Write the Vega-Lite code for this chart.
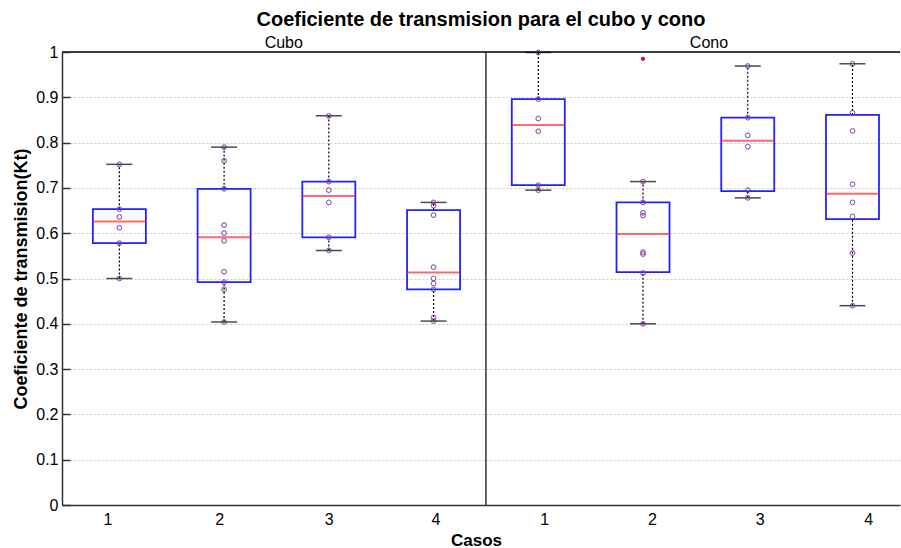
{
  "$schema": "https://vega.github.io/schema/vega-lite/v6.json",
  "width": 838,
  "height": 453,
  "autosize": "none",
  "padding": {"left": 62, "top": 52, "right": 1, "bottom": 43},
  "background": "white",
  "config": {
    "font": "Liberation Sans",
    "view": {"stroke": null}
  },
  "title": {
    "text": "Coeficiente de transmision para el cubo y cono",
    "fontSize": 20,
    "fontWeight": "bold",
    "color": "black",
    "anchor": "middle",
    "offset": 5
  },
  "datasets": {
    "cajas": [
      {"pos": 1, "grupo": "Cubo", "caso": 1, "lo": 0.500, "q1": 0.578, "med": 0.626, "q3": 0.653, "hi": 0.752},
      {"pos": 2, "grupo": "Cubo", "caso": 2, "lo": 0.404, "q1": 0.492, "med": 0.591, "q3": 0.698, "hi": 0.790},
      {"pos": 3, "grupo": "Cubo", "caso": 3, "lo": 0.562, "q1": 0.591, "med": 0.682, "q3": 0.714, "hi": 0.859},
      {"pos": 4, "grupo": "Cubo", "caso": 4, "lo": 0.406, "q1": 0.476, "med": 0.513, "q3": 0.651, "hi": 0.668},
      {"pos": 5, "grupo": "Cono", "caso": 1, "lo": 0.695, "q1": 0.706, "med": 0.839, "q3": 0.896, "hi": 0.999},
      {"pos": 6, "grupo": "Cono", "caso": 2, "lo": 0.400, "q1": 0.514, "med": 0.598, "q3": 0.668, "hi": 0.714},
      {"pos": 7, "grupo": "Cono", "caso": 3, "lo": 0.678, "q1": 0.693, "med": 0.804, "q3": 0.855, "hi": 0.969},
      {"pos": 8, "grupo": "Cono", "caso": 4, "lo": 0.440, "q1": 0.631, "med": 0.687, "q3": 0.861, "hi": 0.974}
    ],
    "puntos": [
      {"pos": 1, "v": 0.752}, {"pos": 1, "v": 0.653}, {"pos": 1, "v": 0.636}, {"pos": 1, "v": 0.612}, {"pos": 1, "v": 0.578}, {"pos": 1, "v": 0.500},
      {"pos": 2, "v": 0.790}, {"pos": 2, "v": 0.760}, {"pos": 2, "v": 0.698}, {"pos": 2, "v": 0.618}, {"pos": 2, "v": 0.600}, {"pos": 2, "v": 0.583}, {"pos": 2, "v": 0.515}, {"pos": 2, "v": 0.492}, {"pos": 2, "v": 0.476}, {"pos": 2, "v": 0.404},
      {"pos": 3, "v": 0.859}, {"pos": 3, "v": 0.714}, {"pos": 3, "v": 0.695}, {"pos": 3, "v": 0.668}, {"pos": 3, "v": 0.591}, {"pos": 3, "v": 0.562},
      {"pos": 4, "v": 0.668}, {"pos": 4, "v": 0.661}, {"pos": 4, "v": 0.640}, {"pos": 4, "v": 0.525}, {"pos": 4, "v": 0.500}, {"pos": 4, "v": 0.489}, {"pos": 4, "v": 0.476}, {"pos": 4, "v": 0.414}, {"pos": 4, "v": 0.406},
      {"pos": 5, "v": 0.999}, {"pos": 5, "v": 0.896}, {"pos": 5, "v": 0.853}, {"pos": 5, "v": 0.825}, {"pos": 5, "v": 0.706}, {"pos": 5, "v": 0.695},
      {"pos": 6, "v": 0.714}, {"pos": 6, "v": 0.668}, {"pos": 6, "v": 0.645}, {"pos": 6, "v": 0.639}, {"pos": 6, "v": 0.558}, {"pos": 6, "v": 0.554}, {"pos": 6, "v": 0.512}, {"pos": 6, "v": 0.400},
      {"pos": 7, "v": 0.969}, {"pos": 7, "v": 0.855}, {"pos": 7, "v": 0.816}, {"pos": 7, "v": 0.791}, {"pos": 7, "v": 0.695}, {"pos": 7, "v": 0.678},
      {"pos": 8, "v": 0.974}, {"pos": 8, "v": 0.866}, {"pos": 8, "v": 0.826}, {"pos": 8, "v": 0.708}, {"pos": 8, "v": 0.668}, {"pos": 8, "v": 0.637}, {"pos": 8, "v": 0.556}, {"pos": 8, "v": 0.440}
    ],
    "atipicos": [
      {"pos": 6, "v": 0.985}
    ],
    "paneles": [
      {"panel": "Cubo", "centro": 2.57, "tope": 1},
      {"panel": "Cono", "centro": 6.63, "tope": 1}
    ],
    "divisor": [
      {"x": 4.5}
    ]
  },
  "layer": [
    {
      "data": {"name": "puntos"},
      "mark": {"type": "point", "shape": "circle", "filled": false, "size": 22, "strokeWidth": 1, "color": "#8a4aa8"},
      "encoding": {
        "x": {
          "field": "pos",
          "type": "quantitative",
          "scale": {"domain": [0.5, 8.406], "nice": false, "zero": false},
          "axis": {
            "title": "Casos",
            "titleFontSize": 17,
            "titleFontWeight": "bold",
            "titleColor": "black",
            "titlePadding": 5,
            "titleX": 414,
            "values": [0.887, 1.953, 3.0, 4.019, 5.057, 6.085, 7.113, 8.15],
            "labelExpr": "datum.value < 4.5 ? round(datum.value) : round(datum.value) - 4",
            "labelFontSize": 16,
            "labelColor": "black",
            "labelPadding": 6,
            "ticks": false,
            "grid": false,
            "domainColor": "#333333",
            "domainWidth": 1.5
          }
        },
        "y": {
          "field": "v",
          "type": "quantitative",
          "scale": {"domain": [0, 1], "nice": false},
          "axis": {
            "title": "Coeficiente de transmision(Kt)",
            "titleFontSize": 18,
            "titleFontWeight": "bold",
            "titleColor": "black",
            "titlePadding": 5,
            "values": [0, 0.1, 0.2, 0.3, 0.4, 0.5, 0.6, 0.7, 0.8, 0.9, 1],
            "format": ".1~f",
            "labelFontSize": 16,
            "labelColor": "black",
            "labelPadding": 12,
            "tickSize": -8,
            "tickColor": "#333333",
            "tickWidth": 1.5,
            "grid": true,
            "gridColor": "#cccccc",
            "gridDash": [2, 2],
            "gridWidth": 1,
            "domainColor": "#333333",
            "domainWidth": 1.5
          }
        }
      }
    },
    {
      "data": {"name": "paneles"},
      "mark": {"type": "rule", "color": "#333333", "strokeWidth": 1.5},
      "encoding": {"y": {"field": "tope", "type": "quantitative"}}
    },
    {
      "data": {"name": "divisor"},
      "mark": {"type": "rule", "color": "#333333", "strokeWidth": 1.5},
      "encoding": {"x": {"field": "x", "type": "quantitative"}}
    },
    {
      "data": {"name": "cajas"},
      "mark": {"type": "rule", "color": "black", "strokeWidth": 1.2, "strokeDash": [2, 2]},
      "encoding": {"x": {"field": "pos", "type": "quantitative"}, "y": {"field": "lo", "type": "quantitative"}, "y2": {"field": "q1"}}
    },
    {
      "data": {"name": "cajas"},
      "mark": {"type": "rule", "color": "black", "strokeWidth": 1.2, "strokeDash": [2, 2]},
      "encoding": {"x": {"field": "pos", "type": "quantitative"}, "y": {"field": "q3", "type": "quantitative"}, "y2": {"field": "hi"}}
    },
    {
      "data": {"name": "cajas"},
      "mark": {"type": "tick", "orient": "horizontal", "size": 26, "thickness": 1.5, "color": "black"},
      "encoding": {"x": {"field": "pos", "type": "quantitative"}, "y": {"field": "lo", "type": "quantitative"}}
    },
    {
      "data": {"name": "cajas"},
      "mark": {"type": "tick", "orient": "horizontal", "size": 26, "thickness": 1.5, "color": "black"},
      "encoding": {"x": {"field": "pos", "type": "quantitative"}, "y": {"field": "hi", "type": "quantitative"}}
    },
    {
      "data": {"name": "cajas"},
      "mark": {"type": "bar", "orient": "vertical", "size": 53, "fill": "white", "fillOpacity": 0, "stroke": "#2222ff", "strokeWidth": 1.8},
      "encoding": {"x": {"field": "pos", "type": "quantitative"}, "y": {"field": "q1", "type": "quantitative"}, "y2": {"field": "q3"}}
    },
    {
      "data": {"name": "cajas"},
      "mark": {"type": "tick", "orient": "horizontal", "size": 53, "thickness": 2, "color": "#ff2a2a"},
      "encoding": {"x": {"field": "pos", "type": "quantitative"}, "y": {"field": "med", "type": "quantitative"}}
    },
    {
      "data": {"name": "puntos"},
      "mark": {"type": "point", "shape": "circle", "filled": false, "size": 22, "strokeWidth": 1, "color": "#8a4aa8"},
      "encoding": {"x": {"field": "pos", "type": "quantitative"}, "y": {"field": "v", "type": "quantitative"}}
    },
    {
      "data": {"name": "atipicos"},
      "mark": {"type": "point", "shape": "circle", "filled": true, "size": 18, "color": "#c0143c", "opacity": 1},
      "encoding": {"x": {"field": "pos", "type": "quantitative"}, "y": {"field": "v", "type": "quantitative"}}
    },
    {
      "data": {"name": "paneles"},
      "mark": {"type": "text", "fontSize": 16, "color": "black", "baseline": "alphabetic", "align": "center", "dy": -4},
      "encoding": {
        "x": {"field": "centro", "type": "quantitative"},
        "y": {"field": "tope", "type": "quantitative"},
        "text": {"field": "panel"}
      }
    }
  ]
}
